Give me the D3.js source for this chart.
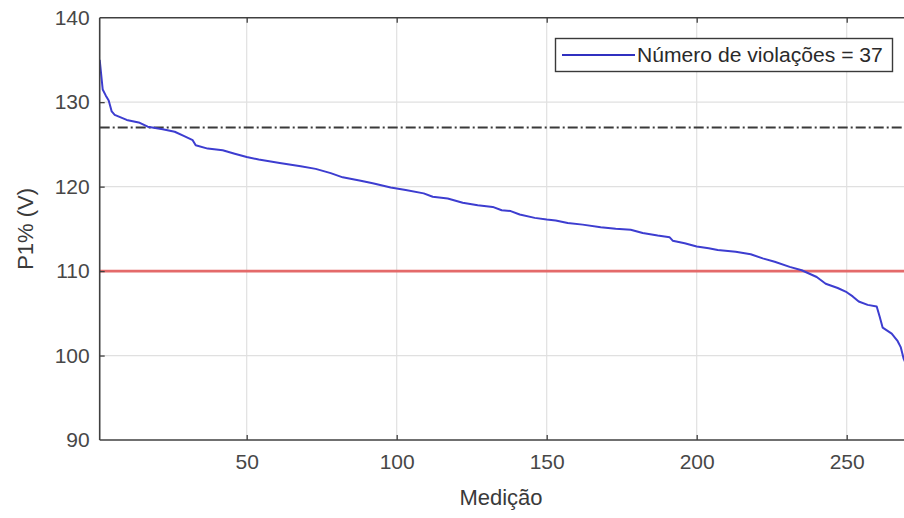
<!DOCTYPE html>
<html><head><meta charset="utf-8">
<script src="https://cdn.jsdelivr.net/npm/d3@7"></script>
<style>body{margin:0;background:#fff}svg{display:block}</style>
</head><body>
<svg id="c" width="904" height="518"></svg>
<script>
const medicao = [1,2,3,4,5,6,8,10,14,17,22,26,29,32,33,37,42,46,50,54,61,68,73,78,82,88,92,98,103,109,112,117,122,127,132,135,138,141,146,150,153,157,162,168,173,178,182,187,191,192,196,200,204,207,213,218,222,226,231,235,240,243,247,250,252,254,257,260,261,262,265,267,268,269,270];
const p1 = [135.0,131.5,130.8,130.2,128.9,128.5,128.2,127.9,127.6,127.1,126.8,126.5,126.0,125.5,124.9,124.5,124.3,123.9,123.5,123.2,122.8,122.4,122.1,121.6,121.1,120.7,120.4,119.9,119.6,119.2,118.8,118.6,118.1,117.8,117.6,117.2,117.1,116.7,116.3,116.1,116.0,115.7,115.5,115.2,115.0,114.9,114.5,114.2,114.0,113.6,113.3,112.9,112.7,112.5,112.3,112.0,111.5,111.1,110.5,110.1,109.3,108.5,108.0,107.5,107.0,106.4,106.0,105.8,104.6,103.3,102.6,101.7,101.0,99.6,98.8];
const xTicks = [50,100,150,200,250];
const yTicks = [90,100,110,120,130,140];
const limiteSuperior = 127;
const limiteInferior = 110;
const legendLabel = "Número de violações = 37";
const xLabel = "Medição";
const yLabel = "P1% (V)";

const svg = d3.select("#c");
const L = 99.7, R = 906.7, T = 17.7, B = 440;
const x = d3.scaleLinear().domain([1,270]).range([L,R]);
const y = d3.scaleLinear().domain([90,140]).range([B,T]);
const font = "Liberation Sans, Arial, Helvetica, sans-serif";

svg.append("defs").append("clipPath").attr("id","clip")
  .append("rect").attr("x",L).attr("y",T).attr("width",R-L).attr("height",B-T);

// grid
const g = svg.append("g");
g.selectAll(".gx").data(xTicks).enter().append("line")
  .attr("x1",d=>x(d)).attr("x2",d=>x(d)).attr("y1",T).attr("y2",B)
  .attr("stroke","#e0e0e0").attr("stroke-width",1.2);
g.selectAll(".gy").data(yTicks.filter(d=>d>90&&d<140)).enter().append("line")
  .attr("x1",L).attr("x2",R).attr("y1",d=>y(d)).attr("y2",d=>y(d))
  .attr("stroke","#e0e0e0").attr("stroke-width",1.2);

const plot = svg.append("g").attr("clip-path","url(#clip)");
// limits
plot.append("line").attr("x1",L).attr("x2",R).attr("y1",y(limiteSuperior)).attr("y2",y(limiteSuperior))
  .attr("stroke","#3a3a3a").attr("stroke-width",1.8).attr("stroke-dasharray","10,3,2,3");
plot.append("line").attr("x1",L).attr("x2",R).attr("y1",y(limiteInferior)).attr("y2",y(limiteInferior))
  .attr("stroke","#e46a6a").attr("stroke-width",2.6);

// data line
const pts = medicao.map((m,i)=>[m,p1[i]]);
plot.append("path").datum(pts)
  .attr("d", d3.line().x(d=>x(d[0])).y(d=>y(d[1])))
  .attr("fill","none").attr("stroke","#3d3dd0").attr("stroke-width",2).attr("stroke-linejoin","round");

// axes
const axC = "#404040", txC = "#474747";
const xa = svg.append("g").attr("transform",`translate(0,${B})`)
  .call(d3.axisBottom(x).tickValues(xTicks).tickSizeInner(-5).tickSizeOuter(0).tickPadding(14));
const xt = svg.append("g").attr("transform",`translate(0,${T})`)
  .call(d3.axisTop(x).tickValues(xTicks).tickSizeInner(-5).tickSizeOuter(0).tickFormat(""));
const ya = svg.append("g").attr("transform",`translate(${L},0)`)
  .call(d3.axisLeft(y).tickValues(yTicks).tickSizeInner(-5).tickSizeOuter(0).tickPadding(10));
[xa,xt,ya].forEach(a=>{
  a.select(".domain").attr("stroke",axC).attr("stroke-width",1.6);
  a.selectAll(".tick line").attr("stroke",axC).attr("stroke-width",1.3);
  a.selectAll("text").attr("fill",txC).style("font-family",font).style("font-size","21px");
});
xt.select(".domain").attr("d",`M${L},0H904`);
xa.select(".domain").attr("d",`M${L},0H904`);
ya.select(".domain").attr("d",`M0,${T}V${B}`);
ya.selectAll(".tick").filter(d=>d===90||d===140).select("line").remove();

// axis labels
svg.append("text").attr("x",501).attr("y",505).attr("text-anchor","middle")
  .attr("fill","#3a3a3a").style("font-family",font).style("font-size","22px").text(xLabel);
svg.append("text").attr("transform",`translate(33,${(T+B)/2}) rotate(-90)`).attr("text-anchor","middle")
  .attr("fill","#3a3a3a").style("font-family",font).style("font-size","22px").text(yLabel);

// legend
const lg = svg.append("g");
lg.append("rect").attr("x",555.5).attr("y",38.5).attr("width",337).attr("height",33)
  .attr("fill","#fff").attr("stroke","#3a3a3a").attr("stroke-width",1.4);
lg.append("line").attr("x1",562).attr("x2",635).attr("y1",55).attr("y2",55)
  .attr("stroke","#3030c0").attr("stroke-width",1.8);
const lt = lg.append("text").attr("x",637).attr("y",61.5).attr("fill","#2a2a2a")
  .style("font-family",font).style("font-size","17px").text(legendLabel);
const w = lt.node().getComputedTextLength();
lt.style("font-size",(17*246/w).toFixed(2)+"px");
</script>
</body></html>
